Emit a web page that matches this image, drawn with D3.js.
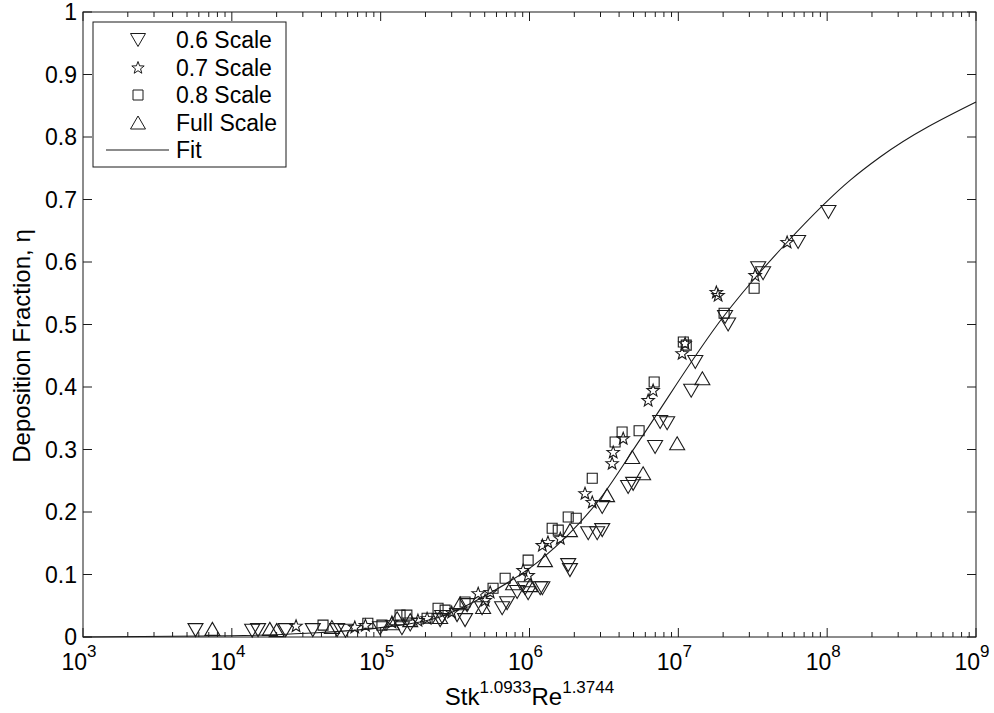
<!DOCTYPE html>
<html>
<head>
<meta charset="utf-8">
<script src="https://cdn.jsdelivr.net/npm/d3@7"></script>
<style>
  body { margin: 0; background: #fff; }
  svg text { font-family: "Liberation Sans", Arial, sans-serif; fill: #000; }
</style>
</head>
<body>
<script>
// values: [x, eta]
var scale06 = [
    [5.7e3, 0.011], [1.37e4, 0.010], [1.5e4, 0.011], [2.3e4, 0.011], [3.5e4, 0.011],
    [5.1e4, 0.011], [5.8e4, 0.010], [9.9e4, 0.014], [1.39e5, 0.014], [1.58e5, 0.020],
    [2.51e5, 0.027], [2.59e5, 0.032], [3.26e5, 0.035], [3.69e5, 0.027], [3.81e5, 0.051],
    [4.8e5, 0.046], [6.55e5, 0.046], [7.07e5, 0.054], [8.26e5, 0.072], [9.34e5, 0.078],
    [9.79e5, 0.070], [1.18e6, 0.078], [1.22e6, 0.078], [1.82e6, 0.115], [1.87e6, 0.107],
    [2.48e6, 0.166], [2.85e6, 0.166], [3.08e6, 0.171], [3.08e6, 0.208], [4.6e6, 0.240],
    [4.97e6, 0.245], [6.98e6, 0.304], [7.55e6, 0.344], [8.41e6, 0.342], [1.22e7, 0.394],
    [1.30e7, 0.440], [2.06e7, 0.512], [2.16e7, 0.500], [3.44e7, 0.590], [3.71e7, 0.582],
    [6.38e7, 0.632], [1.02e8, 0.680]
];
var scale07 = [
    [2.7e4, 0.018], [6.7e4, 0.016], [7.9e4, 0.019], [1.19e5, 0.024], [1.78e5, 0.027],
    [2.05e5, 0.030], [3.0e5, 0.040], [4.52e5, 0.070], [5.03e5, 0.059], [5.44e5, 0.072],
    [9.06e5, 0.107], [9.79e5, 0.099], [1.22e6, 0.147], [1.33e6, 0.152], [1.61e6, 0.158],
    [2.36e6, 0.230], [2.64e6, 0.216], [3.59e6, 0.278], [3.65e6, 0.296], [4.26e6, 0.318],
    [6.27e6, 0.379], [6.77e6, 0.395], [1.06e7, 0.454], [1.11e7, 0.470], [1.80e7, 0.552],
    [1.85e7, 0.547], [3.28e7, 0.579], [5.38e7, 0.632]
];
var scale08 = [
    [4.1e4, 0.019], [8.2e4, 0.022], [1.02e5, 0.019], [1.35e5, 0.035], [1.5e5, 0.035],
    [2.05e5, 0.030], [2.43e5, 0.046], [2.71e5, 0.043], [3.69e5, 0.056], [5.69e5, 0.078],
    [6.86e5, 0.094], [9.79e5, 0.123], [1.42e6, 0.174], [1.56e6, 0.171], [1.82e6, 0.192],
    [2.06e6, 0.190], [2.64e6, 0.254], [3.76e6, 0.312], [4.19e6, 0.328], [5.45e6, 0.330],
    [6.88e6, 0.408], [1.08e7, 0.472], [1.13e7, 0.467], [2.03e7, 0.518], [3.23e7, 0.558]
];
var scaleFull = [
    [7.4e3, 0.013], [1.8e4, 0.013], [2.0e4, 0.011], [4.7e4, 0.016], [1.19e5, 0.022],
    [1.29e5, 0.030], [1.58e5, 0.027], [2.51e5, 0.032], [3.42e5, 0.054], [4.88e5, 0.048],
    [7.76e5, 0.086], [1.01e6, 0.083], [1.27e6, 0.123], [1.87e6, 0.171], [3.32e6, 0.227],
    [4.9e6, 0.288], [5.8e6, 0.262], [9.82e6, 0.310], [1.45e7, 0.414]
];
// fit curve, points
var fitLine = [
    [1e3, 0.000], [1e4, 0.002], [3.2e4, 0.006], [1e5, 0.015], [2.5e5, 0.032],
    [5.4e5, 0.070], [1.18e6, 0.123], [2.95e6, 0.220], [5.5e6, 0.315], [2.0e7, 0.512],
    [5.4e7, 0.632], [1.43e8, 0.731], [2.27e8, 0.768], [1e9, 0.856]
];
var legendLabels = ["0.6 Scale", "0.7 Scale", "0.8 Scale", "Full Scale", "Fit"];
var yTicks = [0, 0.1, 0.2, 0.3, 0.4, 0.5, 0.6, 0.7, 0.8, 0.9, 1];
var xMajor = [1e3, 1e4, 1e5, 1e6, 1e7, 1e8, 1e9];

var width = 994, height = 713;
var margin = { left: 83, right: 18, top: 12, bottom: 76 };
var plotW = width - margin.left - margin.right;
var plotH = height - margin.top - margin.bottom;

var svg = d3.select("body").append("svg")
    .attr("width", width)
    .attr("height", height);

var x = d3.scaleLog().domain([1e3, 1e9]).range([margin.left, margin.left + plotW]);
var y = d3.scaleLinear().domain([0, 1]).range([margin.top + plotH, margin.top]);

var ink = "#1a1a1a";

// marker paths, centred on 0,0
function markerPath(kind) {
    if (kind === "down") return "M-7.5,-6.5L7.5,-6.5L0,6.5Z";
    if (kind === "up") return "M0,-6.5L7.5,6.5L-7.5,6.5Z";
    if (kind === "square") return "M-5,-5L5,-5L5,5L-5,5Z";
    var pts = [];
    for (var i = 0; i < 10; i++) {
        var r = i % 2 === 0 ? 6.5 : 2.7;
        var a = -Math.PI / 2 + i * Math.PI / 5;
        pts.push([r * Math.cos(a), r * Math.sin(a) + 0.5]);
    }
    return "M" + pts.map(function (p) { return p[0].toFixed(2) + "," + p[1].toFixed(2); }).join("L") + "Z";
}

var plot = svg.append("g");

var series = [
    { data: scale06, kind: "down" },
    { data: scale07, kind: "star" },
    { data: scale08, kind: "square" },
    { data: scaleFull, kind: "up" }
];

series.forEach(function (s) {
    plot.append("g").selectAll("path")
        .data(s.data)
        .enter().append("path")
        .attr("d", markerPath(s.kind))
        .attr("transform", function (d) { return "translate(" + x(d[0]) + "," + y(d[1]) + ")"; })
        .attr("fill", "none")
        .attr("stroke", ink)
        .attr("stroke-width", 1.1);
});

var line = d3.line()
    .x(function (d) { return x(d[0]); })
    .y(function (d) { return y(d[1]); })
    .curve(d3.curveMonotoneX);

plot.append("path")
    .datum(fitLine)
    .attr("d", line)
    .attr("fill", "none")
    .attr("stroke", ink)
    .attr("stroke-width", 1.1);

// axes box and ticks
var x0 = margin.left, x1 = margin.left + plotW;
var y0 = margin.top + plotH, y1 = margin.top;

var axes = svg.append("g").attr("stroke", ink).attr("stroke-width", 1);

axes.append("rect")
    .attr("x", x0).attr("y", y1)
    .attr("width", plotW).attr("height", plotH)
    .attr("fill", "none");

var minor = [];
for (var e = 3; e < 9; e++) {
    for (var m = 2; m <= 9; m++) minor.push(m * Math.pow(10, e));
}

xMajor.forEach(function (v) {
    axes.append("line").attr("x1", x(v)).attr("x2", x(v)).attr("y1", y0).attr("y2", y0 - 9);
    axes.append("line").attr("x1", x(v)).attr("x2", x(v)).attr("y1", y1).attr("y2", y1 + 9);
});
minor.forEach(function (v) {
    axes.append("line").attr("x1", x(v)).attr("x2", x(v)).attr("y1", y0).attr("y2", y0 - 5);
    axes.append("line").attr("x1", x(v)).attr("x2", x(v)).attr("y1", y1).attr("y2", y1 + 5);
});
yTicks.forEach(function (v) {
    axes.append("line").attr("x1", x0).attr("x2", x0 + 9).attr("y1", y(v)).attr("y2", y(v));
    axes.append("line").attr("x1", x1).attr("x2", x1 - 9).attr("y1", y(v)).attr("y2", y(v));
});

// tick labels
svg.append("g").selectAll("text")
    .data(yTicks)
    .enter().append("text")
    .attr("x", x0 - 6)
    .attr("y", function (d) { return y(d) + 8; })
    .attr("text-anchor", "end")
    .attr("font-size", 23)
    .text(function (d) { return d3.format("")(d); });

var xl = svg.append("g").selectAll("text")
    .data(xMajor)
    .enter().append("text")
    .attr("x", function (d) { return x(d) - 4; })
    .attr("y", 670)
    .attr("text-anchor", "middle")
    .attr("font-size", 23);
xl.append("tspan").text("10");
xl.append("tspan")
    .attr("dy", -13)
    .attr("font-size", 17)
    .text(function (d) { return Math.round(Math.log10(d)); });

// axis titles
var xt = svg.append("text")
    .attr("x", x(Math.pow(10, 6)))
    .attr("y", 705)
    .attr("text-anchor", "middle")
    .attr("font-size", 24);
xt.append("tspan").text("Stk");
xt.append("tspan").attr("dy", -12).attr("font-size", 17).text("1.0933");
xt.append("tspan").attr("dy", 12).text("Re");
xt.append("tspan").attr("dy", -12).attr("font-size", 17).text("1.3744");

svg.append("text")
    .attr("transform", "translate(30,346) rotate(-90)")
    .attr("text-anchor", "middle")
    .attr("font-size", 24)
    .text("Deposition Fraction, \u03b7");

// legend
var legend = svg.append("g").attr("transform", "translate(93,22)");
legend.append("rect")
    .attr("width", 193).attr("height", 145)
    .attr("fill", "#fff")
    .attr("stroke", ink).attr("stroke-width", 1);

var kinds = ["down", "star", "square", "up"];
var rowY = d3.scaleLinear().domain([0, 4]).range([18, 128]);

legendLabels.forEach(function (lab, i) {
    if (i < 4) {
        legend.append("path")
            .attr("d", markerPath(kinds[i]))
            .attr("transform", "translate(45," + rowY(i) + ")")
            .attr("fill", "none")
            .attr("stroke", ink);
    } else {
        legend.append("line")
            .attr("x1", 13).attr("x2", 76)
            .attr("y1", rowY(i)).attr("y2", rowY(i))
            .attr("stroke", ink).attr("stroke-width", 1.1);
    }
    legend.append("text")
        .attr("x", 83)
        .attr("y", rowY(i) + 8)
        .attr("font-size", 23)
        .text(lab);
});
</script>
</body>
</html>
